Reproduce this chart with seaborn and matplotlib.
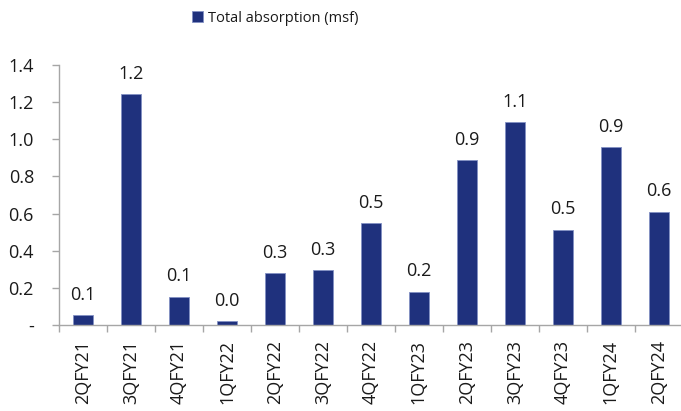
from matplotlib import pyplot as plt
from matplotlib.ticker import FixedLocator
import pandas as pd
import seaborn as sns

# data
quarters = ['2QFY21', '3QFY21', '4QFY21', '1QFY22', '2QFY22', '3QFY22', '4QFY22',
            '1QFY23', '2QFY23', '3QFY23', '4QFY23', '1QFY24', '2QFY24']
absorption = [0.054, 1.245, 0.153, 0.023, 0.28, 0.296, 0.548,
              0.18, 0.886, 1.094, 0.514, 0.958, 0.611]
bar_labels = ['0.1', '1.2', '0.1', '0.0', '0.3', '0.3', '0.5',
              '0.2', '0.9', '1.1', '0.5', '0.9', '0.6']
y_ticks = [0, 0.2, 0.4, 0.6, 0.8, 1.0, 1.2, 1.4]
y_tick_labels = ['-', '0.2', '0.4', '0.6', '0.8', '1.0', '1.2', '1.4']

df = pd.DataFrame({'quarter': quarters, 'absorption': absorption})

sns.set_style('white')
plt.rcParams['font.family'] = ['Open Sans', 'DejaVu Sans']

bar_color = '#1f317d'
spine_color = '#a6a6a6'
text_color = '#1a1a1a'
fs = 13

fig = plt.figure(figsize=(6.81, 4.11), dpi=100)
ax = fig.add_axes([0.0866, 0.2092, 0.916, 0.6326])

sns.barplot(data=df, x='quarter', y='absorption', color=bar_color, saturation=1,
            width=0.42, edgecolor='#8390c4', linewidth=0.6, ax=ax,
            label='Total absorption (msf)')

ax.bar_label(ax.containers[0], labels=bar_labels, padding=8, fontsize=fs,
             color=text_color)

ax.set_xlim(-0.5, len(quarters) - 0.5)
ax.set_ylim(0, 1.4)
ax.set_yticks(y_ticks)
ax.set_yticklabels(y_tick_labels)
ax.set_xlabel('')
ax.set_ylabel('')

# tick marks sit between categories on the x axis
ax.xaxis.set_minor_locator(FixedLocator([i - 0.5 for i in range(len(quarters) + 1)]))
ax.tick_params(axis='x', which='major', length=0, pad=11, labelrotation=90,
               labelsize=fs, labelcolor=text_color)
ax.tick_params(axis='x', which='minor', length=5, width=1, color=spine_color,
               direction='out', bottom=True)
ax.tick_params(axis='y', length=5, width=1, color=spine_color, direction='out',
               left=True, pad=13, labelsize=fs, labelcolor=text_color)

for side in ['top', 'right']:
    ax.spines[side].set_visible(False)
for side in ['left', 'bottom']:
    ax.spines[side].set_color(spine_color)
    ax.spines[side].set_linewidth(1)

if ax.legend_:
    ax.legend_.remove()
handles, labels = ax.get_legend_handles_labels()
fig.legend(handles, labels, loc='center left', bbox_to_anchor=(0.262, 0.956),
           frameon=False, handlelength=0.8, handleheight=0.8,
           handletextpad=0.3, labelcolor=text_color, fontsize=10.5)

plt.savefig('out.png', dpi=100)
plt.close()
